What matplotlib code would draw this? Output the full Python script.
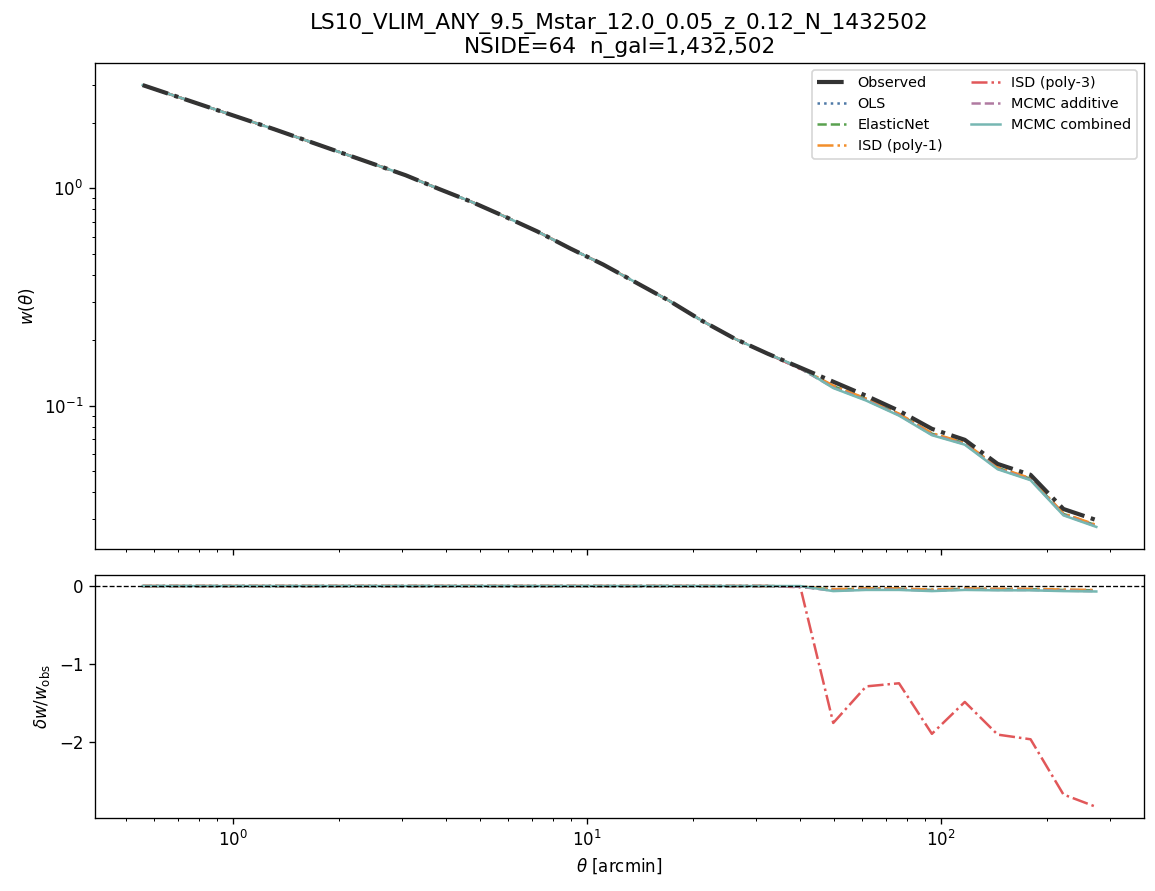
import numpy as np
import matplotlib
matplotlib.use("Agg")
import matplotlib.pyplot as plt
from matplotlib.ticker import MultipleLocator

theta = [0.556, 0.6886, 0.8528, 1.0562, 1.3081, 1.6201, 2.0065, 2.4851, 3.0778, 3.8118,
         4.7209, 5.8468, 7.2413, 8.9683, 11.107, 13.756, 17.037, 21.101, 26.133, 32.366,
         40.085, 49.646, 61.486, 76.151, 94.313, 116.81, 144.66, 179.17, 221.90, 274.82]

w_obs = [2.984, 2.655, 2.362, 2.102, 1.870, 1.655, 1.465, 1.297, 1.148, 0.9947,
         0.8666, 0.743, 0.6334, 0.5291, 0.4464, 0.3688, 0.3047, 0.2464, 0.2036, 0.1737,
         0.1497, 0.129, 0.1112, 0.0948, 0.0783, 0.0697, 0.0540, 0.0481, 0.0335, 0.0298]

# fractional deviations (w_corr - w_obs) / w_obs
d_ols = [0.0, 0.0, 0.0, 0.0, 0.0, 0.0, 0.0, 0.0, 0.0, 0.0,
         0.0, 0.0, 0.0, 0.0, 0.0, 0.0, 0.0, 0.0, 0.0, 0.0,
         -0.01, -0.05, -0.04, -0.04, -0.055, -0.04, -0.045, -0.045, -0.055, -0.06]
d_enet = [0.0, 0.0, 0.0, 0.0, 0.0, 0.0, 0.0, 0.0, 0.0, 0.0,
          0.0, 0.0, 0.0, 0.0, 0.0, 0.0, 0.0, 0.0, 0.0, 0.0,
          -0.01, -0.045, -0.035, -0.035, -0.05, -0.035, -0.04, -0.04, -0.05, -0.055]
d_isd1 = [0.0, 0.0, 0.0, 0.0, 0.0, 0.0, 0.0, 0.0, 0.0, 0.0,
          0.0, 0.0, 0.0, 0.0, 0.0, 0.0, 0.0, 0.0, 0.0, 0.0,
          -0.005, -0.04, -0.03, -0.03, -0.045, -0.03, -0.035, -0.035, -0.045, -0.05]
d_isd3 = [0.0, 0.0, 0.0, 0.0, 0.0, 0.0, 0.0, 0.0, 0.0, 0.0,
          0.0, 0.0, 0.0, 0.0, 0.0, 0.0, 0.0, 0.0, 0.0, 0.0,
          -0.015, -1.76, -1.29, -1.25, -1.90, -1.49, -1.91, -1.97, -2.68, -2.84]
d_mcmc_add = [0.0, 0.0, 0.0, 0.0, 0.0, 0.0, 0.0, 0.0, 0.0, 0.0,
              0.0, 0.0, 0.0, 0.0, 0.0, 0.0, 0.0, 0.0, 0.0, 0.0,
              -0.01, -0.06, -0.045, -0.045, -0.06, -0.045, -0.05, -0.05, -0.06, -0.065]
d_mcmc_comb = [0.0, 0.0, 0.0, 0.0, 0.0, 0.0, 0.0, 0.0, 0.0, 0.0,
               0.0, 0.0, 0.0, 0.0, 0.0, 0.0, 0.0, 0.0, 0.0, 0.0,
               0.0, -0.065, -0.05, -0.05, -0.065, -0.05, -0.055, -0.055, -0.065, -0.07]

methods = ["OLS", "ElasticNet", "ISD (poly-1)", "ISD (poly-3)", "MCMC additive", "MCMC combined"]
deltas = [d_ols, d_enet, d_isd1, d_isd3, d_mcmc_add, d_mcmc_comb]
colors = ["#4e79a7", "#59a14f", "#f28e2b", "#e15759", "#b07aa1", "#76b7b2"]
styles = [":", "--", "-.", "-.", "--", "-"]

title = "LS10_VLIM_ANY_9.5_Mstar_12.0_0.05_z_0.12_N_1432502\nNSIDE=64  n_gal=1,432,502"

fig = plt.figure(figsize=(1155 / 120, 891 / 120), dpi=120)
ax1 = fig.add_axes([95 / 1155, 1 - 549 / 891, 1049 / 1155, 486 / 891])
ax2 = fig.add_axes([95 / 1155, 1 - 818 / 891, 1049 / 1155, 243 / 891], sharex=ax1)

th = np.array(theta)
wo = np.array(w_obs)

ax1.plot(th, wo, color="0.2", lw=2.5, ls="-.", label="Observed", zorder=10)
for name, d, c, s in zip(methods, deltas, colors, styles):
    d = np.array(d)
    wc = wo * (1 + d)
    wc = np.where(wc > 0, wc, np.nan)
    ax1.plot(th, wc, color=c, ls=s, lw=1.5, label=name)
    ax2.plot(th, d, color=c, ls=s, lw=1.5)

ax1.set_xscale("log")
ax1.set_yscale("log")
ax1.set_ylabel(r"$w(\theta)$")
ax1.set_title(title, fontsize=13)
ax1.legend(loc="upper right", ncol=2, fontsize=8.6)
plt.setp(ax1.get_xticklabels(), visible=False)

ax2.axhline(0, color="k", ls="--", lw=0.8)
ax2.yaxis.set_major_locator(MultipleLocator(1))
ax2.set_xlabel(r"$\theta$ [arcmin]")
ax2.set_ylabel(r"$\delta w / w_{\rm obs}$")

fig.savefig("out.png", dpi=120)
